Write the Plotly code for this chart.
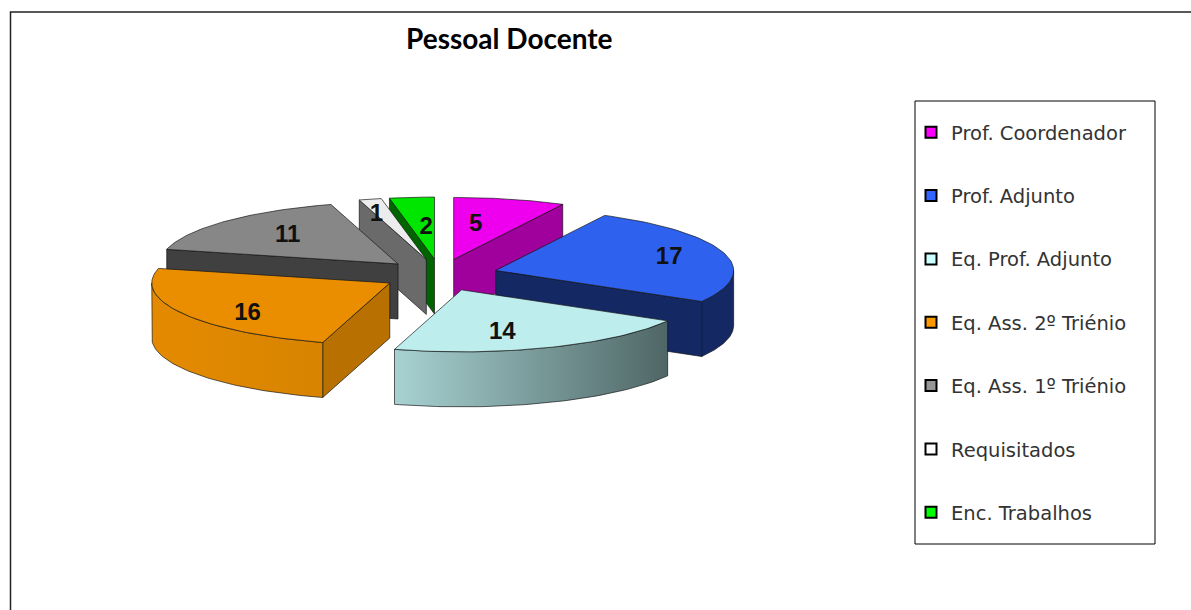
import numpy as np
import plotly.graph_objects as go

categories = ["Prof. Coordenador", "Prof. Adjunto", "Eq. Prof. Adjunto", "Eq. Ass. 2º Triénio",
              "Eq. Ass. 1º Triénio", "Requisitados", "Enc. Trabalhos"]
values = [5, 17, 14, 16, 11, 1, 2]
title_text = "Pessoal Docente"

# styles
top_colors = ["#ee00ee", "#2e62ee", "#bdeded", "#ea8e00", "#878787", "#ececec", "#00e600"]
face_colors = ["#a0009c", "#142864", None, "#b87000", "#404040", "#6a6a6a", "#006400"]
swatch_colors = ["#ff00ff", "#3366ff", "#ccffff", "#ff9900", "#969696", "#ffffff", "#00ff00"]
arc_gradients = {
    1: ["#142864", "#142864"],
    2: ["#a8d2d2", "#4f6666"],
    3: ["#e48a00", "#d88400"],
}
draw_order = [6, 5, 0, 4, 1, 3, 2]
label_fx = [0.39, 0.76, 0.46, 0.69, 0.64, 0.89, 0.37]
label_fy = [0.60, 0.83, 0.71, 0.93, 0.70, 0.77, 0.53]

# projection (pixel space)
CX, CY, EX, EY, RX, RY, DEPTH = 440, 275, 58, 16, 238, 62, 55

total = sum(values)
edges = np.concatenate([[0], np.cumsum(values)]) / total * 2 * np.pi


def apex(i):
    mid = (edges[i] + edges[i + 1]) / 2
    return CX + EX * np.sin(mid), CY - EY * np.cos(mid)


def rim(i, a):
    ax, ay = apex(i)
    return ax + RX * np.sin(a), ay - RY * np.cos(a)


fig = go.Figure()
edge_line = dict(color="rgba(20,20,20,0.85)", width=0.8)


def poly(xs, ys, color=None, grad=None):
    kw = dict(x=list(xs), y=list(ys), mode="lines", fill="toself", line=edge_line,
              hoverinfo="skip", showlegend=False)
    if grad:
        kw["fillgradient"] = dict(type="horizontal",
                                  colorscale=[[0, grad[0]], [1, grad[1]]])
    else:
        kw["fillcolor"] = color
    fig.add_trace(go.Scatter(**kw))


for i in draw_order:
    a0, a1 = edges[i], edges[i + 1]
    ax, ay = apex(i)
    # radial faces visible to viewer
    if i < 2:  # end-angle face
        px, py = rim(i, a1)
        poly([ax, px, px, ax, ax], [ay, py, py + DEPTH, ay + DEPTH, ay], face_colors[i])
    if i >= 3:  # start-angle face
        px, py = rim(i, a0)
        poly([ax, px, px, ax, ax], [ay, py, py + DEPTH, ay + DEPTH, ay], face_colors[i])
    # outer side
    lo, hi = max(a0, np.pi / 2), min(a1, 3 * np.pi / 2)
    if lo < hi:
        t = np.linspace(lo, hi, 60)
        rx, ry = rim(i, t)
        poly(np.r_[rx, rx[::-1], rx[0]], np.r_[ry, ry[::-1] + DEPTH, ry[0]],
             grad=arc_gradients[i])
    # top
    t = np.linspace(a0, a1, 60)
    rx, ry = rim(i, t)
    poly(np.r_[ax, rx, ax], np.r_[ay, ry, ay], top_colors[i])

# value labels
for i in range(len(values)):
    mid = (edges[i] + edges[i + 1]) / 2
    ax, ay = apex(i)
    fig.add_trace(go.Scatter(
        x=[ax + RX * np.sin(mid) * label_fx[i]], y=[ay - RY * np.cos(mid) * label_fy[i] + 2],
        mode="text", text=[str(values[i])], textposition="middle center",
        textfont=dict(family="Liberation Sans", size=24, color="#111111", weight="bold"),
        hoverinfo="skip", showlegend=False))

# legend
for i, name in enumerate(categories):
    fig.add_trace(go.Scatter(
        x=[None], y=[None], mode="markers", name=name, legendgroup=name,
        marker=dict(symbol="square", size=11, color=swatch_colors[i],
                    line=dict(color="black", width=2))))

fig.update_layout(
    width=1191, height=610, margin=dict(l=0, r=0, t=0, b=0),
    paper_bgcolor="white", plot_bgcolor="white",
    xaxis=dict(range=[0, 1191], visible=False, fixedrange=True),
    yaxis=dict(range=[610, 0], visible=False, fixedrange=True),
    annotations=[dict(x=509.5, y=38, xref="x", yref="y", text=f"<b>{title_text}</b>",
                      showarrow=False, font=dict(family="Lato", size=28, color="black"))],
    legend=dict(x=911 / 1191, y=1 - 113 / 610, xanchor="left", yanchor="top",
                bgcolor="rgba(0,0,0,0)", borderwidth=0, tracegroupgap=35,
                itemclick=False, itemdoubleclick=False,
                font=dict(family="DejaVu Sans", size=19.5, color="#333333")),
    shapes=[
        dict(type="rect", x0=915, x1=1155, y0=101, y1=544, xref="x", yref="y",
             line=dict(color="black", width=1), fillcolor="white", layer="below"),
        dict(type="path", path="M 10.5 610 L 10.5 12 L 1191 12", xref="x", yref="y",
             line=dict(color="#222222", width=1.5), layer="below"),
    ],
)

fig.write_html("out.html", config=dict(displayModeBar=False),
               post_script="document.body.style.margin='0';document.body.style.overflow='hidden';")
